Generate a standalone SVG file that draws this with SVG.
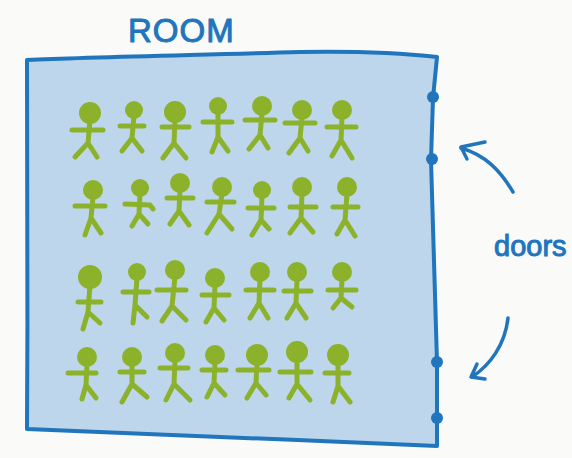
<svg xmlns="http://www.w3.org/2000/svg" width="572" height="458" viewBox="0 0 572 458">
  <style>
    .wall { fill: #bdd6eb; stroke: #2175bd; stroke-width: 4; stroke-linejoin: round; }
    .door { fill: #2175bd; }
    .ink { fill: none; stroke: #2175bd; stroke-width: 3.5; stroke-linecap: round; stroke-linejoin: round; }
    .label { fill: #2175bd; stroke: #2175bd; stroke-width: 1; stroke-linejoin: round; font-family: "Liberation Sans", Arial, sans-serif; }
    .person circle { fill: #8cb22b; }
    .person path { fill: none; stroke: #8cb22b; stroke-width: 5; stroke-linecap: round; stroke-linejoin: round; }
  </style>

  <rect width="572" height="458" fill="#fafaf9"/>

  <!-- room outline -->
  <g id="room">
    <path class="wall" d="M27,60 C90,57 200,55 300,52 C360,51 410,54 437,57 L433,98 L431,160 L437,362 L437,418 L437,446 C300,440 120,433 27,429 C28,300 27,150 27,60 Z"/>
    <text class="label" x="128" y="42" font-size="33" letter-spacing="1">ROOM</text>
  </g>

  <!-- door hinges on the right wall -->
  <g id="doors">
    <circle class="door" cx="433" cy="97" r="6"/>
    <circle class="door" cx="432" cy="159" r="6"/>
    <circle class="door" cx="437" cy="362" r="6"/>
    <circle class="door" cx="437" cy="418" r="6"/>
    <text class="label" x="494" y="256" font-size="29">doors</text>
  </g>

  <!-- pointers from the label to the doors -->
  <g id="connectors">
    <path class="ink" d="M513,192 C500,170 485,155 461,148"/>
    <path class="ink" d="M485,142 L461,147 L467,159"/>
    <path class="ink" d="M508,318 C505,345 490,365 472,377"/>
    <path class="ink" d="M477,364 L471,377 L485,379"/>
  </g>

  <!-- people: head, body+arms+legs -->
  <g id="people">
    <!-- row 1 -->
    <g id="p1-1" class="person"><circle cx="90" cy="113" r="11"/><path d="M90,120 L88,143 M72,130 L103,130 M75,157 L88,143 L97,157"/></g>
    <g id="p1-2" class="person"><circle cx="134" cy="110" r="9"/><path d="M134,116 L132,138 M120,126 L144,126 M122,151 L132,138 L142,151"/></g>
    <g id="p1-3" class="person"><circle cx="175" cy="112" r="11"/><path d="M175,120 L174,143 M162,127 L189,127 M163,158 L174,143 L186,158"/></g>
    <g id="p1-4" class="person"><circle cx="218" cy="106" r="9"/><path d="M218,112 L218,137 M203,122 L232,122 M212,152 L218,137 L228,151"/></g>
    <g id="p1-5" class="person"><circle cx="262" cy="106" r="10"/><path d="M262,113 L260,135 M245,120 L275,120 M249,149 L260,135 L268,148"/></g>
    <g id="p1-6" class="person"><circle cx="302" cy="110" r="10"/><path d="M302,117 L300,138 M285,123 L315,123 M289,153 L300,138 L308,151"/></g>
    <g id="p1-7" class="person"><circle cx="342" cy="110" r="10"/><path d="M342,117 L341,140 M327,127 L356,127 M332,156 L341,140 L352,158"/></g>
    <!-- row 2 -->
    <g id="p2-1" class="person"><circle cx="93" cy="190" r="10"/><path d="M93,197 L91,218 M75,206 L105,206 M85,235 L91,218 L101,233"/></g>
    <g id="p2-2" class="person"><circle cx="140" cy="188" r="9"/><path d="M140,194 L139,214 M125,204 L150,205 L153,209 M132,226 L139,214 L148,224"/></g>
    <g id="p2-3" class="person"><circle cx="180" cy="183" r="10"/><path d="M180,190 L179,211 M167,198 L193,198 M170,224 L179,211 L189,225"/></g>
    <g id="p2-4" class="person"><circle cx="222" cy="187" r="10"/><path d="M222,194 L219,214 M207,202 L234,202 M207,233 L219,214 L232,229"/></g>
    <g id="p2-5" class="person"><circle cx="262" cy="190" r="9"/><path d="M262,196 L261,220 M248,208 L274,208 M252,235 L261,220 L269,229"/></g>
    <g id="p2-6" class="person"><circle cx="302" cy="187" r="10"/><path d="M302,194 L301,218 M290,207 L316,207 M290,233 L301,218 L313,232"/></g>
    <g id="p2-7" class="person"><circle cx="347" cy="187" r="10"/><path d="M347,194 L345,220 M333,207 L358,207 M337,234 L345,220 L355,236"/></g>
    <!-- row 3 -->
    <g id="p3-1" class="person"><circle cx="90" cy="277" r="12"/><path d="M90,285 L88,312 M78,302 L101,302 M83,329 L88,312 L100,323"/></g>
    <g id="p3-2" class="person"><circle cx="137" cy="272" r="9"/><path d="M137,278 L135,305 M123,292 L149,292 M133,323 L135,305 L147,317"/></g>
    <g id="p3-3" class="person"><circle cx="175" cy="270" r="10"/><path d="M175,277 L172,306 M157,290 L186,290 M162,321 L172,306 L186,320"/></g>
    <g id="p3-4" class="person"><circle cx="215" cy="278" r="10"/><path d="M215,285 L214,308 M202,295 L229,295 M206,322 L214,308 L224,320"/></g>
    <g id="p3-5" class="person"><circle cx="260" cy="272" r="10"/><path d="M260,279 L259,303 M246,290 L274,290 M250,318 L259,303 L268,318"/></g>
    <g id="p3-6" class="person"><circle cx="297" cy="272" r="10"/><path d="M297,279 L296,303 M284,291 L311,291 M287,318 L296,303 L306,318"/></g>
    <g id="p3-7" class="person"><circle cx="342" cy="272" r="10"/><path d="M342,279 L341,298 M328,290 L356,290 M333,308 L341,298 L352,307"/></g>
    <!-- row 4 -->
    <g id="p4-1" class="person"><circle cx="87" cy="357" r="10"/><path d="M87,364 L86,385 M68,373 L96,373 M82,399 L86,385 L96,398"/></g>
    <g id="p4-2" class="person"><circle cx="132" cy="357" r="10"/><path d="M132,364 L132,384 M120,372 L144,372 M122,402 L132,384 L147,397"/></g>
    <g id="p4-3" class="person"><circle cx="175" cy="353" r="10"/><path d="M175,360 L174,384 M160,368 L188,368 M166,400 L174,384 L190,400"/></g>
    <g id="p4-4" class="person"><circle cx="215" cy="355" r="10"/><path d="M215,362 L214,383 M202,370 L226,370 M207,397 L214,383 L225,395"/></g>
    <g id="p4-5" class="person"><circle cx="257" cy="355" r="11"/><path d="M257,363 L256,383 M238,370 L269,370 M247,398 L256,383 L266,395"/></g>
    <g id="p4-6" class="person"><circle cx="297" cy="352" r="11"/><path d="M297,360 L297,384 M280,372 L311,372 M289,398 L297,384 L310,400"/></g>
    <g id="p4-7" class="person"><circle cx="338" cy="355" r="11"/><path d="M338,363 L338,386 M325,373 L349,373 M333,402 L338,386 L350,402"/></g>
  </g>
</svg>
